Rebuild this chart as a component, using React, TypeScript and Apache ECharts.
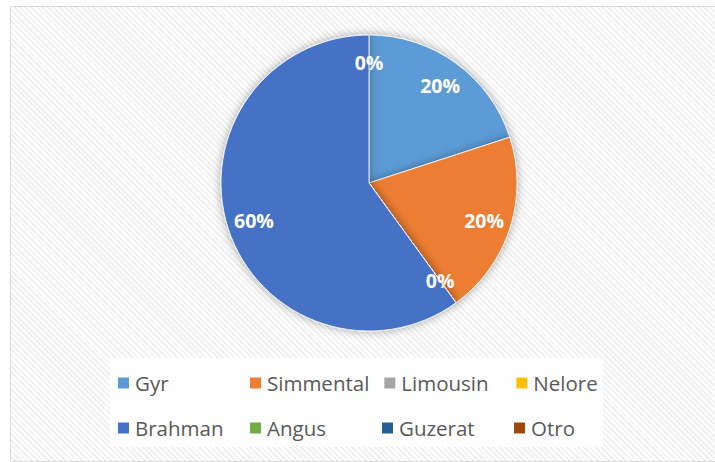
import React, { useEffect, useRef } from "react";
import * as echarts from "echarts";

const categories = ["Gyr", "Simmental", "Limousin", "Nelore", "Brahman", "Angus", "Guzerat", "Otro"];
const values = [20, 20, 0, 0, 60, 0, 0, 0];
const colors = ["#5B9BD5", "#ED7D31", "#A5A5A5", "#FFC000", "#4472C4", "#70AD47", "#255E91", "#9E480E"];

export default function App() {
  const ref = useRef<HTMLDivElement>(null);
  useEffect(() => {
    if (!ref.current) return;
    const chart = echarts.init(ref.current, undefined, { renderer: "svg" });
    const data = categories.map((n, i) => ({ name: n, value: values[i], itemStyle: { color: colors[i] } }));
    chart.setOption({
      animation: false,
      backgroundColor: "transparent",
      graphic: [
        {
          type: "rect",
          z: 0,
          shape: { x: 110, y: 358, width: 493, height: 89 },
          style: { fill: "rgba(255,255,255,0.85)" },
        },
      ],
      legend: {
        data: categories,
        left: 116,
        top: 367,
        width: 524,
        padding: 0,
        itemWidth: 13,
        itemHeight: 13,
        itemGap: 13,
        icon: "rect",
        textStyle: {
          fontFamily: "Open Sans",
          fontSize: 20.5,
          color: "#595959",
          width: 100,
          lineHeight: 32,
          overflow: "none",
        },
        z: 5,
      },
      series: [
        {
          type: "pie",
          center: [369, 183],
          radius: [0, 148],
          startAngle: 90,
          clockwise: true,
          data,
          label: { show: false },
          labelLine: { show: false },
          itemStyle: {
            borderColor: "#ffffff",
            borderWidth: 0.8,
            shadowBlur: 10,
            shadowColor: "rgba(0,0,0,0.35)",
          },
          emphasis: { disabled: true },
          silent: true,
          z: 2,
        },
        {
          type: "pie",
          center: [369, 183],
          radius: [0, 236],
          startAngle: 90,
          clockwise: true,
          data: categories.map((n, i) => ({ name: n, value: values[i] })),
          itemStyle: { color: "transparent", borderWidth: 0 },
          label: {
            show: true,
            position: "inside",
            formatter: (p: any) => Math.round(p.percent) + "%",
            color: "#ffffff",
            fontFamily: "Open Sans",
            fontWeight: "bold",
            fontSize: 19.5,
          },
          labelLine: { show: false },
          emphasis: { disabled: true },
          silent: true,
          z: 3,
        },
      ],
    });
    return () => chart.dispose();
  }, []);
  return (
    <div style={{ position: "fixed", left: 0, top: 0, width: 715, height: 462, overflow: "hidden", background: "#fff" }}>
      <div
        style={{
          position: "absolute",
          left: 10,
          top: 6,
          width: 720,
          height: 454,
          border: "1px solid #d9d9d9",
          background: "repeating-linear-gradient(45deg, #ffffff 0px, #ffffff 2px, #f1f1f1 2px, #f1f1f1 4px)",
        }}
      />
      <div ref={ref} style={{ position: "absolute", left: 0, top: 0, width: 715, height: 462 }} />
    </div>
  );
}
